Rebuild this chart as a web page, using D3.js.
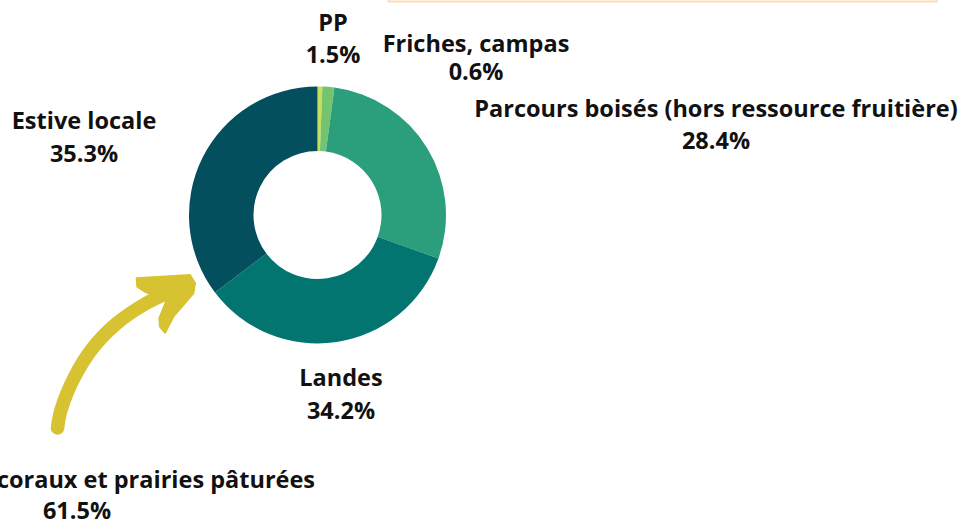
<!DOCTYPE html>
<html>
<head>
<meta charset="utf-8">
<script src="https://cdn.jsdelivr.net/npm/d3@7"></script>
<style>
  html, body { margin: 0; padding: 0; background: #ffffff; }
  svg { display: block; }
  text { font-family: "Open Sans", "Noto Sans", sans-serif; font-weight: 700; fill: #111111; }
</style>
</head>
<body>
<svg id="chart" width="966" height="521"></svg>
<script>
// ---- data ----
const categories = ["Friches, campas", "PP", "Parcours boisés (hors ressource fruitière)", "Landes", "Estive locale"];
const values = [0.6, 1.5, 28.4, 34.2, 35.3];
const percentLabels = ["0.6%", "1.5%", "28.4%", "34.2%", "35.3%"];
const annotationLines = ["coraux et prairies pâturées", "61.5%"];

// ---- styling / layout (kept out of data) ----
const colors = ["#c9de5c", "#74c46f", "#2b9e7b", "#037571", "#044f5d"];
const width = 966, height = 521;
const cx = 317.5, cy = 215, outerR = 128.5, innerR = 64;
const fontSize = "23.5px";
// label positions (center x, line1 center y, line2 center y)
const labelPos = [
  [476, 43, 71],
  [333, 22, 54],
  [716, 108, 140],
  [341, 377, 410],
  [84, 120, 153]
];

const svg = d3.select("#chart");

// peach frame partly off-screen at top
svg.append("rect")
  .attr("x", 388.5).attr("y", -40)
  .attr("width", 548).attr("height", 41.5)
  .attr("fill", "#ffffff")
  .attr("stroke", "#fcdcb3")
  .attr("stroke-width", 2);

const pie = d3.pie().sort(null).value(d => d);
const arc = d3.arc().innerRadius(innerR).outerRadius(outerR);

const g = svg.append("g").attr("transform", `translate(${cx},${cy})`);
g.selectAll("path.slice")
  .data(pie(values))
  .join("path")
  .attr("class", "slice")
  .attr("d", arc)
  .attr("fill", (d, i) => colors[i]);

// labels
const lbl = svg.append("g");
categories.forEach((c, i) => {
  const p = labelPos[i];
  lbl.append("text")
    .attr("x", p[0]).attr("y", p[1])
    .attr("text-anchor", "middle")
    .attr("dominant-baseline", "central")
    .style("font-size", fontSize)
    .text(c);
  lbl.append("text")
    .attr("x", p[0]).attr("y", p[2])
    .attr("text-anchor", "middle")
    .attr("dominant-baseline", "central")
    .style("font-size", fontSize)
    .text(percentLabels[i]);
});

// annotation arrow
const arrowColor = "#d7c232";
const shaft = [[57.5, 428], [61, 410], [74, 378], [92, 349], [116, 324], [145, 304], [172, 291]];
svg.append("path")
  .attr("d", d3.line().curve(d3.curveCatmullRom)(shaft))
  .attr("fill", "none")
  .attr("stroke", arrowColor)
  .attr("stroke-width", 13.5)
  .attr("stroke-linecap", "round");
const head = [[136.7, 278.3], [190, 275], [195, 283.3], [193.3, 293.3], [173.3, 316.7], [165, 332.7], [160, 326.7], [159.3, 318.3], [166.7, 300], [145, 291.7], [137.3, 286.7]];
svg.append("path")
  .attr("d", d3.line()(head) + "Z")
  .attr("fill", arrowColor)
  .attr("stroke", arrowColor)
  .attr("stroke-width", 2)
  .attr("stroke-linejoin", "round");

// annotation text
svg.append("text")
  .attr("x", 315).attr("y", 479)
  .attr("text-anchor", "end")
  .attr("dominant-baseline", "central")
  .style("font-size", fontSize)
  .text(annotationLines[0]);
svg.append("text")
  .attr("x", 77).attr("y", 510)
  .attr("text-anchor", "middle")
  .attr("dominant-baseline", "central")
  .style("font-size", fontSize)
  .text(annotationLines[1]);
</script>
</body>
</html>
